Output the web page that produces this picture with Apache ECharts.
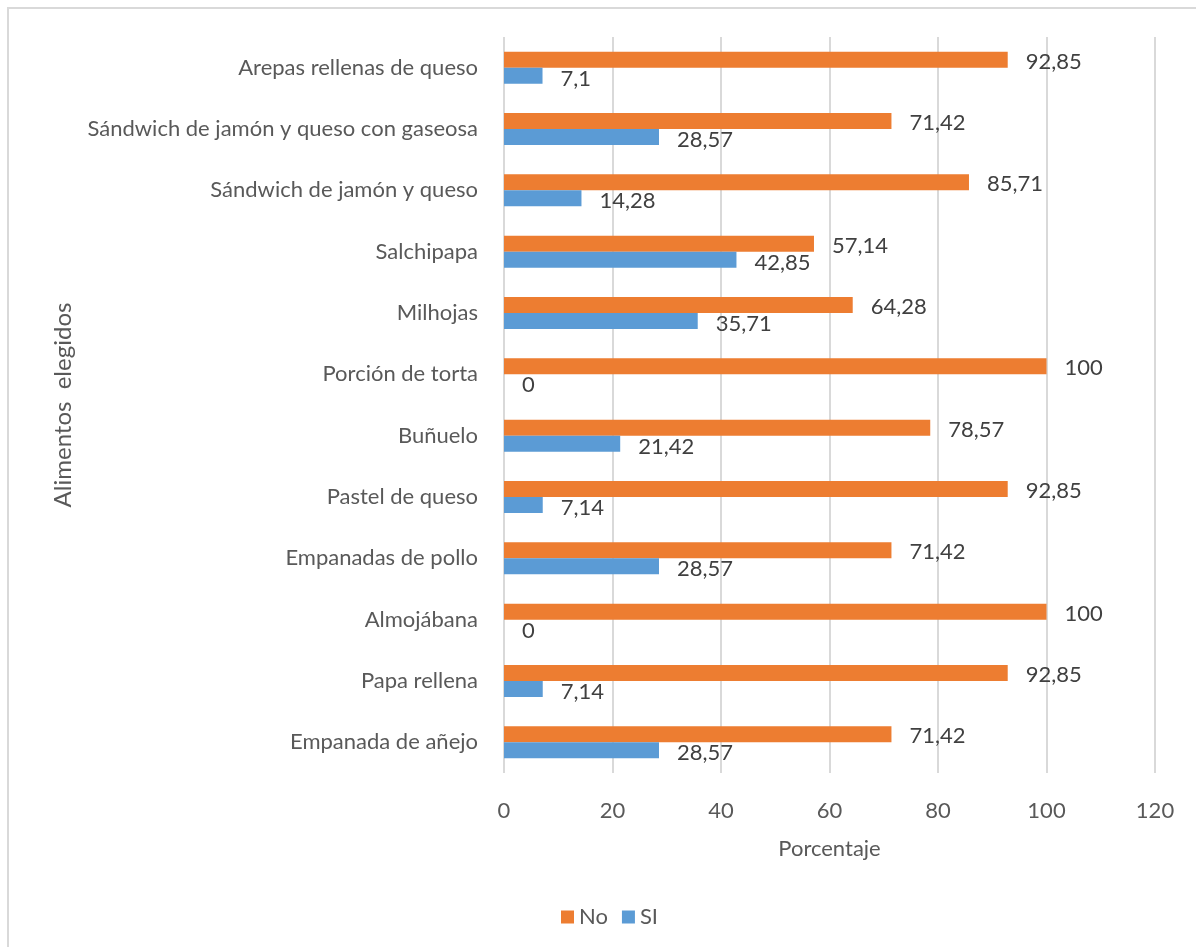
<!DOCTYPE html>
<html>
<head>
<meta charset="utf-8">
<script src="https://cdn.jsdelivr.net/npm/echarts@6/dist/echarts.min.js"></script>
<style>
  html, body { margin: 0; padding: 0; background: #fff; }
  #chart { width: 1196px; height: 947px; }
</style>
</head>
<body>
<div id="chart"></div>
<script>
// Foods, listed top to bottom
const categories = [
  'Arepas rellenas de queso',
  'Sándwich de jamón y queso con gaseosa',
  'Sándwich de jamón y queso',
  'Salchipapa',
  'Milhojas',
  'Porción de torta',
  'Buñuelo',
  'Pastel de queso',
  'Empanadas de pollo',
  'Almojábana',
  'Papa rellena',
  'Empanada de añejo'
];
const seriesNames = ['No', 'SI'];
const noValues = [92.85, 71.42, 85.71, 57.14, 64.28, 100, 78.57, 92.85, 71.42, 100, 92.85, 71.42];
const siValues = [7.1, 28.57, 14.28, 42.85, 35.71, 0, 21.42, 7.14, 28.57, 0, 7.14, 28.57];
const xTicks = { min: 0, max: 120, interval: 20 };

const FONT = 'Lato';
const SIZE = 22;
const fmt = v => String(v).replace('.', ',');

const labelStyle = {
  show: true,
  position: 'right',
  distance: 18,
  color: '#404040',
  fontFamily: FONT,
  fontSize: SIZE,
  formatter: p => fmt(p.value)
};

const chart = echarts.init(document.getElementById('chart'), null, { renderer: 'canvas' });
chart.setOption({
  backgroundColor: '#ffffff',
  animation: false,
  textStyle: { fontFamily: FONT },
  graphic: [{
    type: 'rect',
    shape: { x: 8, y: 8, width: 1400, height: 1200 },
    style: { fill: 'none', stroke: '#d9d9d9', lineWidth: 2 },
    silent: true
  }],
  grid: { left: 504, right: 41, top: 37, bottom: 174 },
  legend: {
    data: seriesNames,
    left: 556,
    top: 901,
    itemWidth: 13,
    itemHeight: 13,
    itemGap: 14,
    icon: 'rect',
    textStyle: { color: '#595959', fontFamily: FONT, fontSize: SIZE }
  },
  xAxis: {
    type: 'value',
    min: xTicks.min,
    max: xTicks.max,
    interval: xTicks.interval,
    name: 'Porcentaje',
    nameLocation: 'middle',
    nameGap: 65,
    nameTextStyle: { color: '#595959', fontFamily: FONT, fontSize: SIZE },
    axisLine: { show: false },
    axisTick: { show: false },
    axisLabel: { color: '#595959', fontFamily: FONT, fontSize: SIZE, margin: 27 },
    splitLine: { show: true, lineStyle: { color: '#d9d9d9', width: 2 } }
  },
  yAxis: {
    type: 'category',
    data: categories,
    inverse: true,
    name: 'Alimentos  elegidos',
    nameLocation: 'middle',
    nameRotate: 90,
    nameGap: 429,
    nameTextStyle: { color: '#595959', fontFamily: FONT, fontSize: 24 },
    axisLine: { show: false },
    axisTick: { show: false },
    axisLabel: { color: '#595959', fontFamily: FONT, fontSize: SIZE, margin: 26 },
    splitLine: { show: false }
  },
  series: [
    {
      name: seriesNames[0],
      type: 'bar',
      data: noValues,
      itemStyle: { color: '#ED7D31' },
      barWidth: 16,
      barGap: '0%',
      label: Object.assign({}, labelStyle, { offset: [0, 2] })
    },
    {
      name: seriesNames[1],
      type: 'bar',
      data: siValues,
      itemStyle: { color: '#5B9BD5' },
      barWidth: 16,
      barGap: '0%',
      label: Object.assign({}, labelStyle, { offset: [0, 3] })
    }
  ]
});
</script>
</body>
</html>
